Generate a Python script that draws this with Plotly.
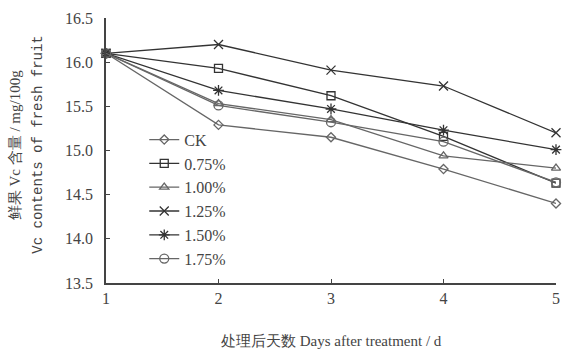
import plotly.graph_objects as go

days = [1, 2, 3, 4, 5]
series_names = ["CK", "0.75%", "1.00%", "1.25%", "1.50%", "1.75%"]
ck = [16.10, 15.29, 15.15, 14.79, 14.40]
p075 = [16.10, 15.93, 15.62, 15.16, 14.63]
p100 = [16.10, 15.53, 15.35, 14.94, 14.80]
p125 = [16.10, 16.20, 15.91, 15.73, 15.20]
p150 = [16.10, 15.68, 15.47, 15.23, 15.01]
p175 = [16.10, 15.51, 15.32, 15.10, 14.64]
values = [ck, p075, p100, p125, p150, p175]
symbols = ["diamond-open", "square-open", "triangle-up-open", "x-thin-open", "asterisk-open", "circle-open"]
sizes = [7, 8, 8, 9, 9, 9]
colors = ["#666", "#333", "#666", "#333", "#333", "#666"]

fig = go.Figure()
for name, vals, sym, sz, col in zip(series_names, values, symbols, sizes, colors):
    fig.add_trace(go.Scatter(
        x=days, y=vals, name=name, mode="lines+markers",
        line=dict(color=col, width=1.3),
        marker=dict(symbol=sym, size=sz, color=col, line=dict(color=col, width=1.3)),
        cliponaxis=False,
    ))

font = "Liberation Serif, Times New Roman, serif"
fig.update_layout(
    width=567, height=357,
    margin=dict(l=106, r=7, t=18, b=74),
    paper_bgcolor="white", plot_bgcolor="white",
    font=dict(family=font, size=14, color="#444"),
    showlegend=True,
    legend=dict(x=0.085, y=0.605, xanchor="left", yanchor="top",
                bgcolor="rgba(0,0,0,0)", font=dict(size=16, color="#444"),
                tracegroupgap=0, itemwidth=30),
    xaxis=dict(range=[1, 5], tickvals=days, showgrid=False, zeroline=False,
               showline=True, linecolor="#444", linewidth=1.5,
               ticks="inside", ticklen=4, tickcolor="#444",
               tickfont=dict(size=16)),
    yaxis=dict(range=[13.5, 16.5], dtick=0.5, tickformat=".1f", showgrid=False,
               zeroline=False, showline=True, linecolor="#444", linewidth=1.5,
               ticks="inside", ticklen=4, tickcolor="#444",
               ticklabelstandoff=8,
               tickfont=dict(size=16)),
)
fig.add_annotation(text="处理后天数 Days after treatment / d", xref="paper", yref="paper",
                   x=0.5, y=-0.22, xanchor="center", yanchor="middle",
                   showarrow=False, font=dict(size=15, color="#444"))
fig.add_annotation(text="鲜果 Vc 含量 / mg/100g", xref="paper", yref="paper",
                   x=-0.202, y=0.52, xanchor="center", yanchor="middle", textangle=-90,
                   showarrow=False, font=dict(size=15, color="#444"))
fig.add_annotation(text="Vc contents of fresh fruit", xref="paper", yref="paper",
                   x=-0.15, y=0.52, xanchor="center", yanchor="middle", textangle=-90,
                   showarrow=False, font=dict(size=14, color="#444",
                                              family="Liberation Mono, Courier New, monospace"))
fig.write_html("out.html")
